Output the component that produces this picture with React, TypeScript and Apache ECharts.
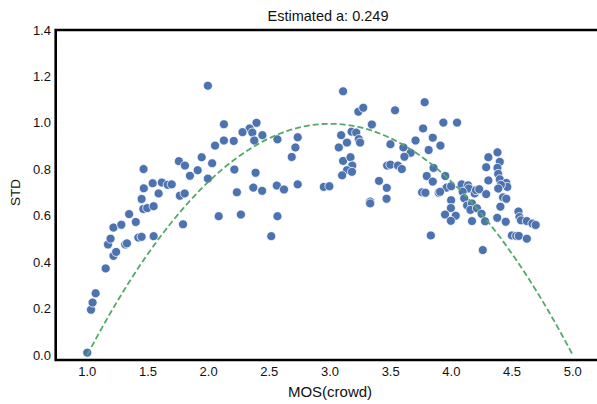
import React, { useEffect, useRef } from "react";
import * as echarts from "echarts";

// MOS(crowd) values of each point
const mosX = [
  1.0, 1.031, 1.044, 1.069, 1.152, 1.216, 1.238, 1.171, 1.192, 1.216, 1.281, 1.313, 1.327, 1.345, 1.4, 1.421,
  1.448, 1.547, 1.464, 1.466, 1.448, 1.462, 1.494, 1.547, 1.539, 1.615, 1.588, 1.663, 1.696, 1.763, 1.755, 1.789,
  1.994, 2.126, 2.395, 2.338, 2.36, 2.279, 2.126, 2.207, 2.376, 2.443, 2.053, 2.567, 2.734, 2.715, 2.685, 1.805,
  1.943, 2.029, 1.91, 1.846, 2.212, 1.994, 2.387, 1.803, 2.233, 2.368, 2.441, 2.562, 2.621, 2.734, 2.083, 2.266,
  2.567, 2.516, 3.108, 3.234, 3.274, 3.536, 3.345, 3.092, 3.178, 3.216, 3.14, 3.073, 3.237, 3.248, 3.108, 3.169,
  3.183, 3.14, 3.181, 3.1, 2.949, 2.995, 3.331, 3.331, 3.404, 3.468, 3.466, 3.471, 3.498, 3.56, 3.592, 3.498,
  3.605, 3.665, 3.613, 3.705, 3.78, 3.934, 4.047, 3.767, 3.847, 3.91, 3.813, 3.853, 3.797, 3.847, 3.95, 3.961,
  3.998, 3.759, 3.786, 3.896, 3.907, 4.085, 4.138, 4.144, 4.093, 4.192, 4.203, 4.23, 4.287, 4.305, 4.287, 4.305,
  3.998, 4.106, 3.996, 4.13, 4.17, 4.157, 3.948, 4.036, 4.211, 4.249, 3.996, 4.17, 4.278, 3.831, 4.38, 4.399,
  4.38, 4.386, 4.399, 4.453, 4.461, 4.408, 4.386, 4.426, 4.453, 4.404, 4.553, 4.561, 4.574, 4.378, 4.448, 4.622,
  4.668, 4.695, 4.499, 4.534, 4.556, 4.622, 4.259,
];

// STD values of each point
const stdY = [
  0.01, 0.195, 0.226, 0.266, 0.373, 0.427, 0.444, 0.476, 0.501, 0.549, 0.561, 0.476, 0.481, 0.607, 0.573, 0.506,
  0.509, 0.512, 0.801, 0.718, 0.672, 0.629, 0.633, 0.641, 0.74, 0.743, 0.696, 0.733, 0.735, 0.686, 0.835, 0.563,
  1.16, 0.994, 1.0, 0.976, 0.958, 0.96, 0.924, 0.922, 0.924, 0.947, 0.902, 0.929, 0.938, 0.894, 0.853, 0.816,
  0.852, 0.826, 0.796, 0.772, 0.799, 0.76, 0.785, 0.696, 0.701, 0.721, 0.707, 0.73, 0.713, 0.735, 0.598, 0.605,
  0.598, 0.512, 1.136, 1.048, 1.065, 1.054, 0.993, 0.947, 0.962, 0.958, 0.915, 0.894, 0.93, 0.915, 0.836, 0.852,
  0.816, 0.796, 0.789, 0.774, 0.724, 0.727, 0.661, 0.653, 0.75, 0.72, 0.673, 0.816, 0.82, 0.816, 0.801, 0.908,
  0.894, 0.871, 0.854, 0.924, 1.089, 1.001, 1.001, 0.976, 0.936, 0.902, 0.883, 0.806, 0.771, 0.747, 0.771, 0.721,
  0.727, 0.701, 0.699, 0.699, 0.703, 0.735, 0.731, 0.717, 0.703, 0.696, 0.71, 0.714, 0.693, 0.852, 0.809, 0.752,
  0.667, 0.675, 0.633, 0.644, 0.653, 0.625, 0.605, 0.6, 0.632, 0.608, 0.578, 0.577, 0.576, 0.515, 0.873, 0.832,
  0.806, 0.78, 0.757, 0.741, 0.724, 0.733, 0.717, 0.679, 0.673, 0.639, 0.618, 0.594, 0.58, 0.591, 0.574, 0.577,
  0.566, 0.56, 0.515, 0.513, 0.513, 0.501, 0.452,
];

// estimated parameter of the fitted curve (from the title)
const estimatedA = 0.249;
const xTicks = [1.0, 1.5, 2.0, 2.5, 3.0, 3.5, 4.0, 4.5, 5.0];

export default function App() {
  const ref = useRef<HTMLDivElement>(null);

  useEffect(() => {
    document.body.style.margin = "0";
    if (!ref.current) return;
    const chart = echarts.init(ref.current, undefined, { renderer: "svg" });

    const points = mosX.map((x, i) => [x, stdY[i]]);
    const curve: number[][] = [];
    for (let i = 0; i <= 200; i++) {
      const x = 1 + (4 * i) / 200;
      curve.push([x, Math.max(0, estimatedA * (x - 1) * (5 - x))]);
    }

    const font = "'Liberation Sans', Arial, sans-serif";
    const left = 55.7;
    const top = 30;
    const width = 545.1;
    const height = 330;
    const textColor = "#111111";

    chart.setOption({
      animation: false,
      backgroundColor: "#ffffff",
      grid: { left, top, width, height, show: false },
      graphic: [
        {
          type: "text",
          x: 328,
          y: 16,
          style: {
            text: "Estimated a: 0.249",
            fill: textColor,
            font: `14.5px ${font}`,
            textAlign: "center",
            textVerticalAlign: "middle",
          },
        },
        {
          type: "rect",
          z: 100,
          silent: true,
          shape: { x: left, y: top, width, height },
          style: { fill: "none", stroke: "#000000", lineWidth: 2.6 },
        },
      ],
      xAxis: {
        type: "value",
        min: 0.8,
        max: 5.2,
        name: "MOS(crowd)",
        nameLocation: "middle",
        nameGap: 29,
        nameTextStyle: { color: textColor, fontSize: 15, fontFamily: font },
        axisLine: { show: false },
        axisTick: { show: false },
        splitLine: { show: false },
        axisLabel: {
          customValues: xTicks,
          formatter: (v: number) => v.toFixed(1),
          color: textColor,
          fontSize: 13,
          fontFamily: font,
          margin: 10,
        },
      },
      yAxis: {
        type: "value",
        min: 0,
        max: 1.4,
        interval: 0.2,
        name: "STD",
        nameLocation: "middle",
        nameGap: 38.5,
        nameTextStyle: { color: textColor, fontSize: 13.5, fontFamily: font },
        axisLine: { show: false },
        axisTick: { show: false },
        splitLine: { show: false },
        axisLabel: {
          formatter: (v: number) => v.toFixed(1),
          color: textColor,
          fontSize: 13,
          fontFamily: font,
          margin: 12,
        },
      },
      series: [
        {
          type: "scatter",
          data: points,
          symbol: "circle",
          symbolSize: 9,
          itemStyle: { color: "#4c72b0", borderColor: "#ffffff", borderWidth: 0.8, opacity: 1 },
          z: 2,
        },
        {
          type: "line",
          data: curve,
          showSymbol: false,
          symbol: "none",
          lineStyle: { color: "#55a868", width: 1.8, type: [6, 3] },
          z: 3,
        },
      ],
    });

    return () => chart.dispose();
  }, []);

  return <div ref={ref} style={{ position: "absolute", left: 0, top: 0, width: 597, height: 404 }} />;
}
